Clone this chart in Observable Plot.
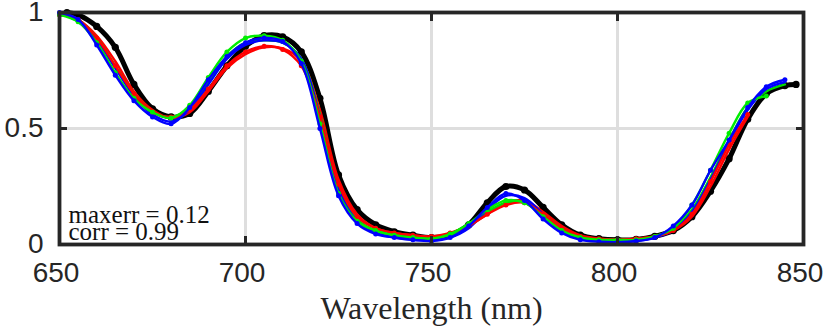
<!DOCTYPE html>
<html><head><meta charset="utf-8">
<script src="https://cdn.jsdelivr.net/npm/d3@7"></script>
<script src="https://cdn.jsdelivr.net/npm/@observablehq/plot@0.6"></script>
<style>body{margin:0;background:#fff}</style>
</head><body><div id="chart"></div>
<script>
// wavelength grid (nm) for the coloured series
const wl = [650,655,660,665,670,675,680,685,690,695,700,705,710,715,720,725,730,735,740,745,
            750,755,760,765,770,775,780,785,790,795,800,805,810,815,820,825,830,835,840,845];
// wavelength grid for the black (reference) series
const wlBlack = [652,655,660,665,670,675,680,685,690,695,700,705,710,715,720,725,730,735,740,745,
                 750,755,760,765,770,775,780,785,790,795,800,805,810,815,820,825,830,835,840,845,848];

const black = [1.00,0.99,0.94,0.85,0.69,0.585,0.55,0.565,0.66,0.77,0.855,0.90,0.895,0.83,0.63,0.30,0.15,0.085,0.055,0.04,
               0.03,0.04,0.085,0.18,0.25,0.235,0.16,0.085,0.04,0.025,0.02,0.022,0.035,0.06,0.12,0.23,0.37,0.54,0.65,0.685,0.69];
const blueDot = [1.00,0.97,0.86,0.73,0.62,0.55,0.52,0.59,0.71,0.81,0.87,0.89,0.875,0.78,0.50,0.21,0.09,0.045,0.03,0.02,
                 0.015,0.03,0.08,0.16,0.22,0.19,0.11,0.05,0.02,0.012,0.01,0.015,0.03,0.08,0.17,0.32,0.45,0.59,0.68,0.71];
const blueLine = [1.00,0.96,0.88,0.76,0.64,0.56,0.53,0.58,0.69,0.80,0.86,0.88,0.87,0.80,0.55,0.24,0.10,0.05,0.03,0.02,
                  0.02,0.03,0.07,0.15,0.21,0.20,0.13,0.06,0.025,0.015,0.01,0.015,0.03,0.06,0.14,0.28,0.44,0.58,0.67,0.70];
const greenDot = [0.99,0.96,0.87,0.74,0.63,0.57,0.545,0.60,0.72,0.83,0.89,0.90,0.88,0.79,0.52,0.22,0.10,0.06,0.04,0.03,
                  0.025,0.045,0.09,0.15,0.19,0.18,0.12,0.06,0.03,0.02,0.02,0.02,0.035,0.07,0.17,0.32,0.48,0.61,0.64,null];
const greenLine = [0.99,0.97,0.89,0.77,0.65,0.57,0.55,0.59,0.70,0.81,0.87,0.88,0.87,0.80,0.56,0.25,0.11,0.06,0.04,0.03,
                   0.025,0.04,0.08,0.14,0.18,0.18,0.13,0.07,0.03,0.02,0.02,0.02,0.035,0.065,0.15,0.29,0.45,0.59,0.66,0.69];
const redDot = [0.99,0.97,0.89,0.77,0.65,0.57,0.55,0.58,0.67,0.77,0.83,0.855,0.84,0.77,0.55,0.26,0.12,0.07,0.05,0.04,
                0.035,0.05,0.08,0.13,0.17,0.18,0.13,0.07,0.035,0.025,0.02,0.025,0.035,0.06,0.13,0.27,0.43,0.56,null,null];
const redLine = [1.00,0.97,0.90,0.79,0.66,0.58,0.545,0.57,0.66,0.76,0.82,0.85,0.845,0.79,0.58,0.28,0.13,0.07,0.05,0.04,
                 0.03,0.045,0.08,0.13,0.18,0.19,0.14,0.08,0.04,0.025,0.02,0.025,0.035,0.06,0.12,0.25,0.41,0.55,null,null];

const xTicks = [650,700,750,800,850];
const xTickLabels = ["650","700","750","800","850"];
const yTicks = [0,0.5,1];
const yTickLabels = ["0","0.5","1"];
const xLabel = "Wavelength (nm)";
const annotation = ["maxerr = 0.12","corr = 0.99"];

const rows = (xs, ys) => xs.map((x, i) => ({x, y: ys[i]})).filter(d => d.y != null);

const dark = "#262626";
const curve = "catmull-rom";
const sans = "Liberation Sans, Arial, sans-serif";
const serif = "Liberation Serif, Times New Roman, serif";

const blackRows = rows(wlBlack, black);
const colored = [
  {data: rows(wl, redLine), color: "#ff0000", dots: false},
  {data: rows(wl, greenLine), color: "#00dd00", dots: false},
  {data: rows(wl, blueLine), color: "#0000ff", dots: false},
  {data: rows(wl, redDot), color: "#ff0000", dots: true},
  {data: rows(wl, greenDot), color: "#00ee00", dots: true},
  {data: rows(wl, blueDot), color: "#0000ff", dots: true}
];

const marks = [
  Plot.gridX(xTicks, {stroke: "#dedede", strokeOpacity: 1, strokeWidth: 3}),
  Plot.gridY(yTicks, {stroke: "#dedede", strokeOpacity: 1, strokeWidth: 3}),
  Plot.line(blackRows, {x: "x", y: "y", stroke: "#000", strokeWidth: 5, curve}),
  Plot.dot(blackRows, {x: "x", y: "y", fill: "#000", r: 3.6})
];
for (const s of colored) {
  marks.push(Plot.line(s.data, {x: "x", y: "y", stroke: s.color, strokeWidth: 2.4, curve}));
  if (s.dots) marks.push(Plot.dot(s.data, {x: "x", y: "y", fill: s.color, r: 2.5}));
}
marks.push(
  Plot.frame({stroke: dark, strokeWidth: 3.8}),
  Plot.axisX(xTicks, {anchor: "bottom", tickSize: -8, fill: "none", label: null, stroke: dark, strokeWidth: 3}),
  Plot.axisX(xTicks, {anchor: "top", tickSize: -8, fill: "none", label: null, stroke: dark, strokeWidth: 3}),
  Plot.axisY(yTicks, {anchor: "left", tickSize: -8, fill: "none", label: null, stroke: dark, strokeWidth: 3}),
  Plot.axisY(yTicks, {anchor: "right", tickSize: -8, fill: "none", label: null, stroke: dark, strokeWidth: 3}),
  Plot.axisX(xTicks, {anchor: "bottom", tickSize: 0, tickPadding: 18, label: null, fontSize: 28, fontFamily: sans,
    fill: dark, dx: -3.5, tickFormat: d => xTickLabels[xTicks.indexOf(d)]}),
  Plot.axisY(yTicks, {anchor: "left", tickSize: 0, tickPadding: 16, label: null, fontSize: 28, fontFamily: sans,
    fill: dark, tickFormat: d => yTickLabels[yTicks.indexOf(d)]}),
  Plot.text([xLabel], {frameAnchor: "bottom", dy: 74, text: d => d, fontSize: 32, fontFamily: serif, fill: dark}),
  Plot.text([annotation.join("\n")], {frameAnchor: "bottom-left", textAnchor: "start", lineAnchor: "bottom",
    lineHeight: 0.66, dx: 9, dy: -5, text: d => d, fontSize: 25, fontFamily: serif, fill: "#111"})
);

const chart = Plot.plot({
  width: 830, height: 327,
  marginLeft: 59, marginRight: 27, marginTop: 12, marginBottom: 83,
  x: {domain: [650, 850]},
  y: {domain: [0, 1]},
  style: {background: "#fff", overflow: "visible"},
  marks
});
document.getElementById("chart").appendChild(chart);
</script>
</body></html>
